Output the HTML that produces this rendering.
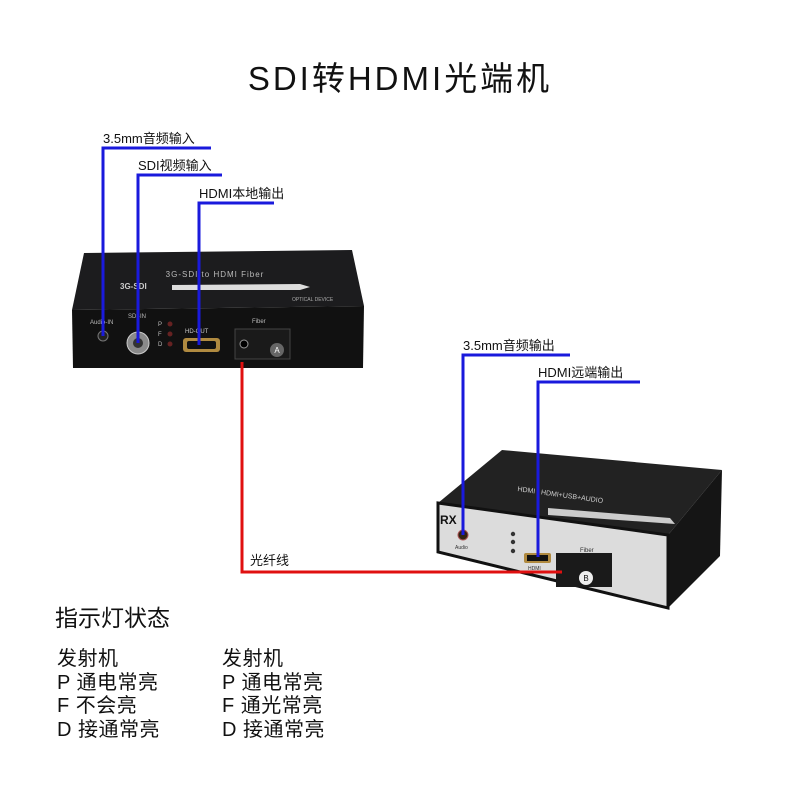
<!DOCTYPE html>
<html><head><meta charset="utf-8"><style>
html,body{margin:0;padding:0;background:#fff}
svg{display:block}
text{font-family:"Liberation Sans","Noto Sans CJK SC",sans-serif}
</style></head><body>
<svg width="800" height="800" viewBox="0 0 800 800">
<rect width="800" height="800" fill="#fff"/>
<text x="400" y="90" font-size="33" text-anchor="middle" fill="#111" letter-spacing="3">SDI转HDMI光端机</text>

<!-- Device 1 -->
<polygon points="84,253 352,250 364,306 72,310" fill="#1c1c1e"/>
<polygon points="72,310 364,306 363,368 73,368" fill="#111"/>
<text x="215" y="277" font-size="8" fill="#bbb" text-anchor="middle" letter-spacing="1">3G-SDI  to  HDMI  Fiber</text>
<text x="120" y="289" font-size="8" fill="#ccc" font-weight="bold">3G-SDI</text>
<polygon points="172,285 300,284 310,287 300,290 172,290" fill="#ddd"/>
<text x="292" y="301" font-size="5" fill="#aaa">OPTICAL DEVICE</text>
<text x="90" y="324" font-size="6" fill="#bbb">Audio-IN</text>
<circle cx="103" cy="336" r="5" fill="#222" stroke="#777"/>
<text x="128" y="318" font-size="6" fill="#bbb">SDI-IN</text>
<circle cx="138" cy="343" r="11" fill="#8a8a8a" stroke="#ccc"/>
<circle cx="138" cy="343" r="5" fill="#333"/>
<text x="158" y="326" font-size="6" fill="#bbb">P</text>
<text x="158" y="336" font-size="6" fill="#bbb">F</text>
<text x="158" y="346" font-size="6" fill="#bbb">D</text>
<circle cx="170" cy="324" r="2.5" fill="#622"/><circle cx="170" cy="334" r="2.5" fill="#622"/><circle cx="170" cy="344" r="2.5" fill="#622"/>
<text x="185" y="333" font-size="6" fill="#ccc">HD-OUT</text>
<rect x="183" y="338" width="37" height="14" rx="3" fill="#b08a40"/>
<rect x="187" y="341" width="29" height="8" rx="2" fill="#111"/>
<text x="252" y="323" font-size="6" fill="#bbb">Fiber</text>
<rect x="235" y="329" width="55" height="30" fill="#1a1a1a" stroke="#444"/>
<circle cx="244" cy="344" r="4" fill="#000" stroke="#999"/>
<circle cx="277" cy="350" r="7" fill="#666"/>
<text x="277" y="353" font-size="8" fill="#fff" text-anchor="middle">A</text>

<!-- Device 2 -->
<polygon points="438,503 502,450 722,470 668,535" fill="#222"/>
<polygon points="668,535 722,470 720,556 668,608" fill="#151515"/>
<polygon points="438,503 668,535 668,608 438,552" fill="#dcdcdc" stroke="#111" stroke-width="3"/>
<text x="560" y="497" font-size="7" fill="#ccc" transform="rotate(8 560 497)" text-anchor="middle">HDMI / HDMI+USB+AUDIO</text>
<polygon points="548,508 670,518 675,524 548,515" fill="#ccc"/>
<text x="440" y="524" font-size="12" font-weight="bold" fill="#111">RX</text>
<circle cx="463" cy="535" r="5" fill="#321" stroke="#a55"/>
<text x="455" y="549" font-size="5" fill="#333">Audio</text>
<circle cx="513" cy="534" r="2.2" fill="#333"/><circle cx="513" cy="542" r="2.2" fill="#333"/><circle cx="513" cy="551" r="2.2" fill="#333"/>
<rect x="524" y="553" width="27" height="10" rx="2" fill="#b08a40"/>
<rect x="527" y="555" width="21" height="6" fill="#111"/>
<text x="528" y="570" font-size="5" fill="#333">HDMI</text>
<text x="580" y="552" font-size="6" fill="#333">Fiber</text>
<rect x="556" y="553" width="56" height="34" fill="#1a1a1a"/>
<circle cx="586" cy="578" r="7" fill="#eee"/>
<text x="586" y="581" font-size="8" fill="#111" text-anchor="middle">B</text>

<!-- Connectors -->
<g stroke="#1a1adc" stroke-width="3" fill="none">
<polyline points="211,148 103,148 103,336"/>
<polyline points="222,175 138,175 138,343"/>
<polyline points="274,203 199,203 199,345"/>
<polyline points="570,355 463,355 463,535"/>
<polyline points="640,382 538,382 538,557"/>
</g>
<polyline points="242,362 242,572 562,572" stroke="#e01010" stroke-width="3" fill="none"/>

<g font-size="13" fill="#111">
<text x="103" y="143">3.5mm音频输入</text>
<text x="138" y="170">SDI视频输入</text>
<text x="199" y="198">HDMI本地输出</text>
<text x="463" y="350">3.5mm音频输出</text>
<text x="538" y="377">HDMI远端输出</text>
<text x="250" y="565">光纤线</text>
</g>

<text x="55" y="626" font-size="23" fill="#111">指示灯状态</text>
<g font-size="20" fill="#111" letter-spacing="0.5">
<text x="57" y="665">发射机</text>
<text x="57" y="689">P 通电常亮</text>
<text x="57" y="712">F 不会亮</text>
<text x="57" y="736">D 接通常亮</text>
<text x="222" y="665">发射机</text>
<text x="222" y="689">P 通电常亮</text>
<text x="222" y="712">F 通光常亮</text>
<text x="222" y="736">D 接通常亮</text>
</g>
</svg>
</body></html>
